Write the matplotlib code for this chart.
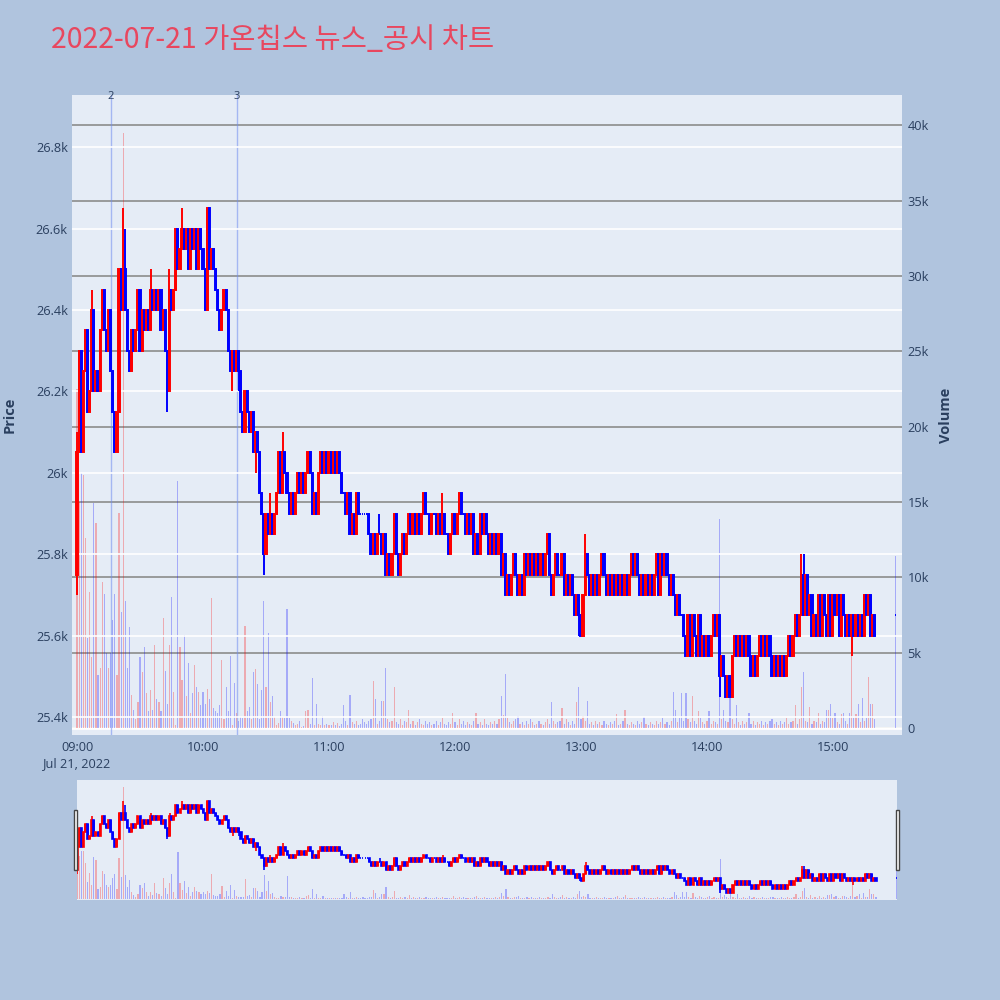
import numpy as np
import pandas as pd
import matplotlib
matplotlib.use('Agg')
import matplotlib.pyplot as plt
import matplotlib.dates as mdates
import matplotlib.transforms as mtransforms
from matplotlib.patches import Rectangle

plt.rcParams['font.family'] = ['Open Sans', 'Noto Sans CJK KR', 'DejaVu Sans']

## data (1-minute candles, 09:00 .. 15:20, plus the 15:30 close)
title = '2022-07-21 가온칩스 뉴스_공시 차트'
first_open = 25750
closes = [
    26050, 26300, 26050, 26250, 26350, 26150, 26200, 26400, 26200, 26250,
    26200, 26350, 26450, 26350, 26300, 26400, 26250, 26150, 26050, 26150,
    26500, 26400, 26500, 26400, 26300, 26250, 26350, 26300, 26350, 26450,
    26300, 26400, 26350, 26400, 26350, 26450, 26400, 26450, 26400, 26450,
    26350, 26400, 26300, 26200, 26450, 26400, 26450, 26600, 26500, 26550,
    26600, 26550, 26600, 26500, 26600, 26550, 26600, 26500, 26600, 26550,
    26500, 26400, 26650, 26500, 26550, 26500, 26450, 26400, 26350, 26400,
    26450, 26400, 26300, 26250, 26300, 26250, 26300, 26250, 26150, 26100,
    26200, 26150, 26100, 26150, 26050, 26100, 26050, 25950, 25900, 25800,
    25900, 25850, 25900, 25850, 25900, 25950, 26050, 25950, 26050, 26000,
    25950, 25900, 25950, 25900, 25950, 26000, 25950, 26000, 25950, 26000,
    26050, 26000, 25900, 25950, 25900, 26000, 26050, 26000, 26050, 26000,
    26050, 26000, 26050, 26000, 26050, 26000, 25950, 25950, 25900, 25950,
    25850, 25900, 25850, 25950, 25900, 25900, 25900, 25900, 25900, 25850,
    25800, 25850, 25800, 25850, 25850, 25800, 25850, 25750, 25800, 25750,
    25800, 25900, 25800, 25750, 25800, 25850, 25800, 25850, 25900, 25850,
    25900, 25850, 25900, 25850, 25900, 25950, 25900, 25900, 25850, 25900,
    25900, 25850, 25900, 25850, 25900, 25850, 25850, 25800, 25850, 25900,
    25850, 25900, 25950, 25900, 25900, 25850, 25900, 25850, 25900, 25800,
    25850, 25800, 25900, 25850, 25900, 25850, 25800, 25850, 25800, 25850,
    25800, 25850, 25750, 25800, 25700, 25750, 25700, 25750, 25800, 25750,
    25700, 25750, 25700, 25800, 25750, 25800, 25750, 25800, 25750, 25800,
    25750, 25800, 25750, 25800, 25850, 25750, 25700, 25750, 25800, 25750,
    25750, 25800, 25700, 25750, 25700, 25750, 25700, 25650, 25700, 25650,
    25600, 25700, 25800, 25750, 25700, 25750, 25700, 25750, 25700, 25750,
    25800, 25750, 25700, 25750, 25700, 25750, 25700, 25750, 25700, 25750,
    25700, 25750, 25700, 25750, 25800, 25750, 25800, 25750, 25700, 25750,
    25700, 25750, 25700, 25750, 25700, 25750, 25800, 25700, 25800, 25750,
    25800, 25750, 25700, 25750, 25700, 25650, 25700, 25650, 25650, 25600,
    25550, 25650, 25550, 25650, 25600, 25550, 25650, 25550, 25600, 25550,
    25600, 25550, 25600, 25650, 25600, 25650, 25500, 25550, 25500, 25450,
    25500, 25450, 25550, 25600, 25550, 25600, 25550, 25600, 25550, 25600,
    25550, 25500, 25550, 25500, 25550, 25600, 25550, 25600, 25550, 25600,
    25550, 25500, 25550, 25500, 25550, 25500, 25550, 25500, 25550, 25600,
    25550, 25600, 25650, 25600, 25650, 25750, 25650, 25750, 25650, 25700,
    25600, 25650, 25600, 25700, 25600, 25700, 25650, 25600, 25700, 25600,
    25700, 25650, 25700, 25600, 25700, 25650, 25600, 25650, 25600, 25650,
    25600, 25650, 25600, 25650, 25600, 25700, 25650, 25700, 25600, 25650,
    25600,
]
close_1530 = 25650
# wicks that stick out of the bodies (minute index -> price)
high_wicks = {0: 26100, 7: 26450, 22: 26650, 23: 26600, 35: 26500, 44: 26500,
              50: 26650, 92: 25950, 98: 26100, 144: 25900, 174: 25950,
              242: 25850, 345: 25800, 346: 25800}
low_wicks = {0: 25700, 43: 26150, 74: 26200, 77: 26200, 85: 26000, 89: 25750,
             239: 25600, 306: 25450, 369: 25550}
volumes_k = [
    22.5, 15.0, 16.9, 16.8, 12.6, 6.0, 9.0, 4.7, 14.9, 13.6,
    3.5, 4.0, 9.7, 8.9, 5.0, 4.0, 5.0, 7.2, 8.9, 3.5,
    14.3, 7.7, 39.5, 8.4, 4.0, 6.7, 2.2, 1.2, 0.6, 1.7,
    4.7, 3.7, 5.4, 2.3, 1.1, 2.5, 1.2, 5.5, 1.9, 1.7,
    1.1, 7.3, 3.8, 1.6, 5.5, 8.7, 2.4, 0.2, 16.4, 5.4,
    3.2, 6.2, 2.1, 4.3, 1.0, 2.3, 4.2, 2.7, 2.4, 1.5,
    2.4, 1.6, 2.6, 1.9, 8.6, 1.3, 1.1, 1.0, 1.5, 4.5,
    0.6, 2.7, 1.1, 4.8, 0.2, 3.0, 1.0, 0.5, 0.75, 0.65,
    6.8, 1.1, 1.4, 0.6, 3.7, 3.9, 2.9, 0.6, 2.5, 8.4,
    2.7, 6.3, 1.7, 2.1, 0.75, 0.2, 0.35, 1.1, 0.75, 0.65,
    7.9, 0.65, 0.5, 0.35, 0.2, 0.3, 0.5, 0.1, 0.15, 1.1,
    1.2, 0.3, 3.3, 0.2, 1.6, 0.3, 0.2, 0.8, 0.2, 0.3,
    0.2, 0.2, 0.4, 0.2, 0.35, 0.15, 0.3, 1.5, 0.5, 0.2,
    2.2, 0.4, 0.3, 0.5, 0.2, 0.3, 0.6, 0.4, 0.3, 0.5,
    0.6, 3.1, 1.9, 0.3, 0.5, 1.8, 1.8, 4.0, 0.6, 0.4,
    0.5, 2.7, 0.4, 0.3, 0.6, 0.2, 0.5, 0.4, 1.2, 0.3,
    0.5, 0.2, 0.4, 0.6, 0.3, 0.2, 0.5, 0.3, 0.4, 0.2,
    0.3, 0.5, 0.2, 0.4, 0.7, 0.3, 0.2, 0.4, 0.3, 1.0,
    0.4, 0.2, 0.6, 0.3, 0.5, 0.2, 0.4, 0.3, 0.2, 0.5,
    1.0, 0.3, 0.4, 0.2, 0.6, 0.3, 0.2, 0.4, 0.3, 0.5,
    0.3, 0.6, 2.1, 0.9, 3.6, 0.7, 0.4, 0.3, 0.5, 0.6,
    0.8, 0.3, 0.4, 0.2, 0.5, 0.3, 0.6, 0.4, 0.2, 0.3,
    0.5, 0.3, 0.2, 0.4, 0.6, 0.3, 1.7, 0.5, 0.3, 0.4,
    0.5, 1.3, 0.3, 0.6, 0.4, 0.2, 0.5, 0.3, 1.7, 2.7,
    0.6, 0.8, 0.5, 1.8, 0.3, 0.4, 0.2, 0.5, 0.3, 0.4,
    0.2, 0.5, 0.3, 0.2, 0.4, 0.3, 0.5, 0.95, 0.2, 0.3,
    0.5, 1.2, 0.3, 0.2, 0.4, 0.3, 0.2, 0.5, 0.3, 0.4,
    0.75, 0.3, 0.2, 0.4, 0.3, 0.2, 0.5, 0.3, 0.4, 0.65,
    0.3, 0.4, 0.2, 0.5, 2.4, 1.2, 0.4, 0.7, 2.3, 0.5,
    2.3, 0.6, 0.4, 2.1, 0.5, 0.3, 1.1, 0.7, 0.4, 0.3,
    0.5, 1.1, 0.3, 0.5, 0.4, 0.3, 13.9, 0.6, 1.2, 0.5,
    0.4, 2.2, 0.6, 0.3, 1.5, 0.4, 0.2, 0.5, 0.3, 0.4,
    1.0, 0.3, 0.5, 0.2, 0.4, 0.3, 0.5, 0.2, 0.4, 0.3,
    0.5, 0.6, 0.3, 0.4, 0.2, 0.5, 0.3, 0.4, 0.7, 0.3,
    0.4, 0.5, 1.5, 0.3, 0.6, 2.7, 3.7, 0.5, 0.4, 1.4,
    0.3, 0.5, 0.4, 1.0, 0.3, 0.5, 0.4, 1.2, 1.2, 1.6,
    0.7, 1.0, 0.4, 0.3, 0.95, 1.0, 0.5, 0.3, 1.0, 4.8,
    0.7, 0.95, 1.6, 0.4, 2.0, 0.5, 0.7, 3.4, 1.6, 1.6,
    0.6,
]
volume_1530_k = 11.4
news_times = ['2022-07-21 09:16', '2022-07-21 10:16']
news_labels = ['2', '3']

price_ticks = [25400, 25600, 25800, 26000, 26200, 26400, 26600, 26800]
price_tick_labels = ['25.4k', '25.6k', '25.8k', '26k', '26.2k', '26.4k', '26.6k', '26.8k']
vol_ticks = [0, 5000, 10000, 15000, 20000, 25000, 30000, 35000, 40000]
vol_tick_labels = ['0', '5k', '10k', '15k', '20k', '25k', '30k', '35k', '40k']
hour_ticks = ['09:00', '10:00', '11:00', '12:00', '13:00', '14:00', '15:00']

## build OHLC
times = pd.date_range('2022-07-21 09:00', periods=len(closes), freq='min')
times = times.append(pd.DatetimeIndex(['2022-07-21 15:30']))
x = mdates.date2num(times.to_pydatetime())
close = np.array(closes + [close_1530], dtype=float)
open_ = np.concatenate([[first_open], close[:-1]])
open_[-1] = close_1530
high = np.maximum(open_, close)
low = np.minimum(open_, close)
for i, v in high_wicks.items():
    high[i] = max(high[i], v)
for i, v in low_wicks.items():
    low[i] = min(low[i], v)
volume = np.array(volumes_k + [volume_1530_k]) * 1000
up = close > open_
UP, DOWN = '#ff0000', '#0000ff'
colors = np.where(up, UP, DOWN)
minute = 1 / 1440.

PRICE_LIM = (25356, 26928)
VOL_LIM = (-460, 42000)
TXT = '#2a3f5f'


def draw(ax_v, ax_p, lw, body_w):
    ax_v.bar(x, volume, width=0.55 * minute, color=colors, alpha=0.28, lw=0, zorder=2)
    ax_p.vlines(x, low, high, colors=colors, lw=lw, zorder=3)
    ax_p.bar(x, np.abs(close - open_), bottom=np.minimum(open_, close), width=body_w * minute,
             color=colors, edgecolor=colors, lw=lw, zorder=3)
    ax_v.set_ylim(*VOL_LIM)
    ax_p.set_ylim(*PRICE_LIM)


fig = plt.figure(figsize=(10, 10), dpi=100)
fig.patch.set_facecolor('#B0C4DE')

t0 = mdates.date2num(pd.Timestamp('2022-07-21 09:00').to_pydatetime())

## main chart
ax_v = fig.add_axes([0.072, 0.265, 0.830, 0.640])
ax_v.set_facecolor('#E5ECF6')
ax_p = ax_v.twinx()
draw(ax_v, ax_p, 1.4, 0.55)
ax_v.set_xlim(t0 - 2.4 * minute, t0 + 392.9 * minute)

ax_v.yaxis.tick_right()
ax_v.set_yticks(vol_ticks)
ax_v.set_yticklabels(vol_tick_labels)
ax_v.grid(axis='y', color='#8c8c8c', lw=1.2, zorder=0)
ax_v.axhline(0, color='white', lw=2, zorder=1)
ax_v.set_axisbelow(True)
ax_p.yaxis.tick_left()
ax_p.set_yticks(price_ticks)
ax_p.set_yticklabels(price_tick_labels)
ax_p.grid(axis='y', color='white', lw=1.2, zorder=1)
ax_p.set_axisbelow(True)

xt = [mdates.date2num(pd.Timestamp('2022-07-21 ' + h).to_pydatetime()) for h in hour_ticks]
ax_v.set_xticks(xt)
ax_v.set_xticklabels([hour_ticks[0] + '\nJul 21, 2022'] + hour_ticks[1:], linespacing=1.35)
for a in (ax_v, ax_p):
    a.tick_params(length=0, labelsize=9.2, labelcolor=TXT)
    for s in a.spines.values():
        s.set_visible(False)
ax_v.tick_params(axis='x', pad=4)
ax_v.tick_params(axis='y', pad=4)
ax_p.tick_params(axis='y', pad=3)

trans = mtransforms.blended_transform_factory(ax_v.transData, ax_v.transAxes)
for t, lab in zip(news_times, news_labels):
    tx = mdates.date2num(pd.Timestamp(t).to_pydatetime())
    ax_v.axvline(tx, color='#6f8cf0', alpha=0.55, lw=1, zorder=2)
    ax_v.text(tx, 0.997, lab, transform=trans, ha='center', va='center', fontsize=8, color=TXT)

fig.text(0.051, 0.960, title, fontsize=20.5, color='#E8475F', va='center', ha='left',
         family=['Noto Sans CJK KR', 'Open Sans'])
fig.text(0.010, 0.585, 'Price', rotation=90, fontsize=10.5, fontweight='bold', color=TXT,
         ha='center', va='center')
fig.text(0.946, 0.585, 'Volume', rotation=90, fontsize=10.5, fontweight='bold', color=TXT,
         ha='center', va='center')

## range slider
sv = fig.add_axes([0.077, 0.100, 0.820, 0.120])
sv.set_facecolor('#E5ECF6')
sp = sv.twinx()
draw(sv, sp, 1.2, 0.5)
sv.set_xlim(t0, mdates.date2num(pd.Timestamp('2022-07-21 15:30').to_pydatetime()))
for a in (sv, sp):
    a.set_xticks([])
    a.set_yticks([])
    for s in a.spines.values():
        s.set_visible(False)
for hx, hw in ((0.0735, 0.0035), (0.8955, 0.0035)):
    fig.patches.append(Rectangle((hx, 0.130), hw, 0.060, transform=fig.transFigure,
                                 facecolor='white', edgecolor='#444444', lw=1))

fig.savefig('out.png', dpi=100, facecolor=fig.get_facecolor())
